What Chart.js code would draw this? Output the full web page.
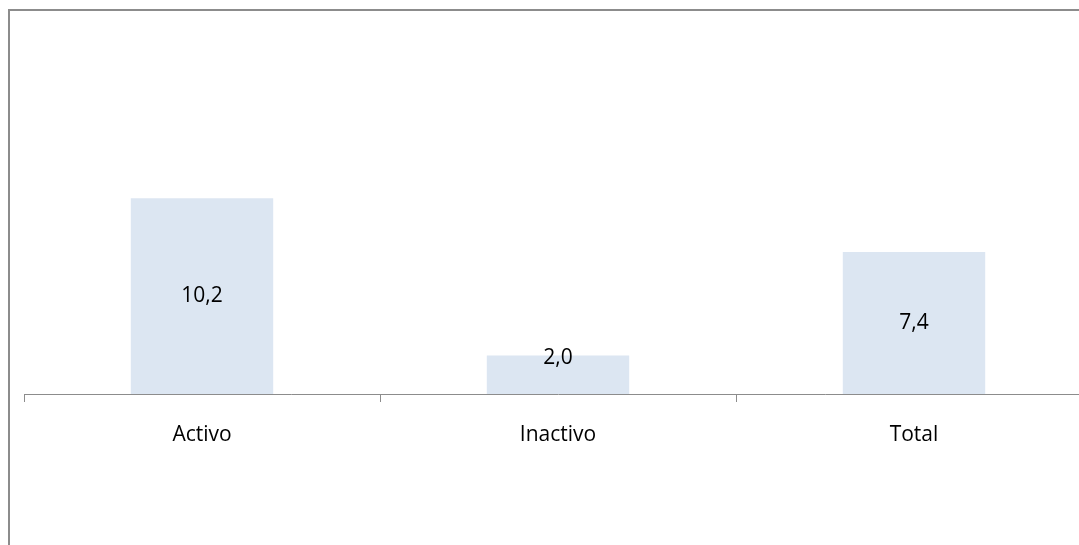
<!DOCTYPE html>
<html>
<head>
<meta charset="utf-8">
<script src="https://cdn.jsdelivr.net/npm/chart.js@4/dist/chart.umd.min.js"></script>
<style>
  html, body { margin: 0; padding: 0; background: #fff; overflow: hidden; width: 1079px; height: 545px; }
  #wrap { position: absolute; left: 0; top: 0; width: 1100px; height: 545px; }
  #frame { position: absolute; left: 8px; top: 9px; width: 1200px; height: 700px;
           border-top: 2px solid #8c8c8c; border-left: 2px solid #8c8c8c; pointer-events: none; }
</style>
</head>
<body>
<div id="wrap"><canvas id="c" width="1100" height="545"></canvas></div>
<div id="frame"></div>
<script>
const categories = ['Activo', 'Inactivo', 'Total'];
const values = [10.2, 2.0, 7.4];
const yMax = 20;

const valueLabels = {
  id: 'valueLabels',
  afterDatasetsDraw(chart) {
    const ctx = chart.ctx;
    const meta = chart.getDatasetMeta(0);
    const base = chart.scales.y.getPixelForValue(0);
    ctx.save();
    ctx.font = '21px "Open Sans"';
    ctx.fillStyle = '#000';
    ctx.textAlign = 'center';
    ctx.textBaseline = 'middle';
    meta.data.forEach((bar, i) => {
      const mid = (bar.y + base) / 2;
      const y = Math.min(mid, base - 36);
      ctx.fillText(values[i].toFixed(1).replace('.', ','), bar.x, y);
    });
    ctx.restore();
  }
};

new Chart(document.getElementById('c'), {
  type: 'bar',
  data: {
    labels: categories,
    datasets: [{
      data: values,
      backgroundColor: '#dce6f2',
      borderWidth: 0,
      barPercentage: 0.4,
      categoryPercentage: 1.0
    }]
  },
  options: {
    responsive: false,
    devicePixelRatio: 1,
    animation: false,
    layout: { padding: { left: 24, right: 8, top: 10, bottom: 0 } },
    plugins: { legend: { display: false }, tooltip: { enabled: false } },
    scales: {
      x: {
        afterFit: (scale) => { scale.height = 151; },
        grid: { display: true, offset: true, drawOnChartArea: false, drawTicks: true, tickLength: 8, color: '#8c8c8c', lineWidth: 1 },
        border: { display: true, color: '#8c8c8c', width: 1 },
        ticks: { color: '#000', font: { family: 'Open Sans', size: 21 }, padding: 20, maxRotation: 0 }
      },
      y: {
        display: false,
        min: 0,
        max: yMax
      }
    }
  },
  plugins: [valueLabels]
});
</script>
</body>
</html>
